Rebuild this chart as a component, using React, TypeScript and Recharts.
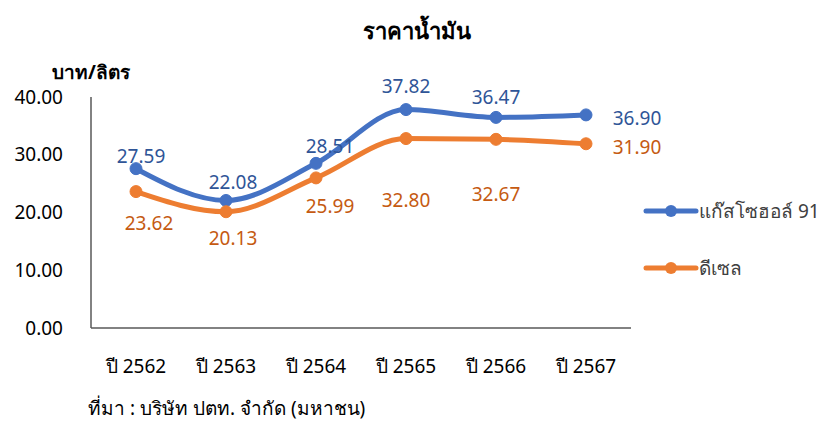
import React from "react"
import { LineChart, Line, XAxis, YAxis, LabelList } from "recharts"

const years = ["ปี 2562", "ปี 2563", "ปี 2564", "ปี 2565", "ปี 2566", "ปี 2567"]
const gasohol91 = [27.59, 22.08, 28.51, 37.82, 36.47, 36.9]
const diesel = [23.62, 20.13, 25.99, 32.8, 32.67, 31.9]
const yTicks = [0, 10, 20, 30, 40]

const data = years.map((year, i) => ({
  year,
  gasohol: gasohol91[i],
  diesel: diesel[i],
}))

const FONT = "'Noto Sans', 'DejaVu Sans', sans-serif"
const BLUE = "#4472C4"
const ORANGE = "#ED7D31"

// label offsets from the point, [dx, dy], roughly as excel placed them
const blueOffsets = [[5, -13], [7, -18], [14, -17], [0, -24], [0, -20], [51, 3]]
const orangeOffsets = [[13, 31], [7, 26], [14, 28], [0, 61], [0, 55], [51, 3]]

const makeLabel = (offsets: number[][], color: string) => (props: any) => {
  const { x, y, value, index } = props
  const [dx, dy] = offsets[index]
  return (
    <text
      x={x + dx}
      y={y + dy}
      fill={color}
      fontSize={19}
      fontFamily={FONT}
      textAnchor="middle"
      dominantBaseline="central"
    >
      {Number(value).toFixed(2)}
    </text>
  )
}

const legendItems = [
  { name: "แก๊สโซฮอล์ 91", color: BLUE },
  { name: "ดีเซล", color: ORANGE },
]

export default function App() {
  return (
    <div style={{ position: "absolute", left: 0, top: 0, width: 834, height: 421, background: "#fff" }}>
      <div
        style={{
          position: "absolute",
          top: 14,
          left: 0,
          width: 834,
          textAlign: "center",
          fontFamily: FONT,
          fontWeight: "bold",
          fontSize: 22,
          color: "#000",
        }}
      >
        ราคาน้ำมัน
      </div>
      <div
        style={{
          position: "absolute",
          top: 57,
          left: 52,
          fontFamily: FONT,
          fontWeight: "bold",
          fontSize: 19,
          color: "#000",
        }}
      >
        บาท/ลิตร
      </div>
      <div
        style={{
          position: "absolute",
          top: 393,
          left: 88,
          fontFamily: FONT,
          fontSize: 19,
          color: "#000",
        }}
      >
        ที่มา : บริษัท ปตท. จำกัด (มหาชน)
      </div>
      <div style={{ position: "absolute", top: 198, left: 643, fontFamily: FONT, fontSize: 19, color: "#404040" }}>
        {legendItems.map((item, i) => (
          <div key={item.name} style={{ display: "flex", alignItems: "center", height: 26, marginBottom: i === 0 ? 31 : 0 }}>
            <svg width={56} height={14}>
              <line x1={3} y1={7} x2={53} y2={7} stroke={item.color} strokeWidth={5} strokeLinecap="round" />
              <circle cx={28} cy={7} r={6} fill={item.color} />
            </svg>
            <span>{item.name}</span>
          </div>
        ))}
      </div>
      <div style={{ position: "absolute", left: 0, top: 0 }}>
        <LineChart width={834} height={421} data={data} margin={{ top: 97, right: 203, bottom: 53, left: 0 }}>
          <XAxis
            dataKey="year"
            padding={{ left: 45, right: 45 }}
            axisLine={{ stroke: "#595959", strokeWidth: 1.5 }}
            tickLine={false}
            tick={{ fill: "#000", fontSize: 19, fontFamily: FONT }}
            tickMargin={26}
            height={40}
          />
          <YAxis
            width={91}
            domain={[0, 40]}
            ticks={yTicks}
            tickFormatter={(v: number) => v.toFixed(2)}
            axisLine={{ stroke: "#595959", strokeWidth: 1.5 }}
            tickLine={false}
            tick={{ fill: "#000", fontSize: 19, fontFamily: FONT }}
            tickMargin={22}
          />
          <Line
            type="monotone"
            dataKey="gasohol"
            name="แก๊สโซฮอล์ 91"
            stroke={BLUE}
            strokeWidth={5}
            dot={{ r: 6, fill: BLUE, stroke: BLUE, strokeWidth: 1 }}
            isAnimationActive={false}
          >
            <LabelList dataKey="gasohol" content={makeLabel(blueOffsets, "#2F5597")} />
          </Line>
          <Line
            type="monotone"
            dataKey="diesel"
            name="ดีเซล"
            stroke={ORANGE}
            strokeWidth={5}
            dot={{ r: 6, fill: ORANGE, stroke: ORANGE, strokeWidth: 1 }}
            isAnimationActive={false}
          >
            <LabelList dataKey="diesel" content={makeLabel(orangeOffsets, "#C55A11")} />
          </Line>
        </LineChart>
      </div>
    </div>
  )
}
